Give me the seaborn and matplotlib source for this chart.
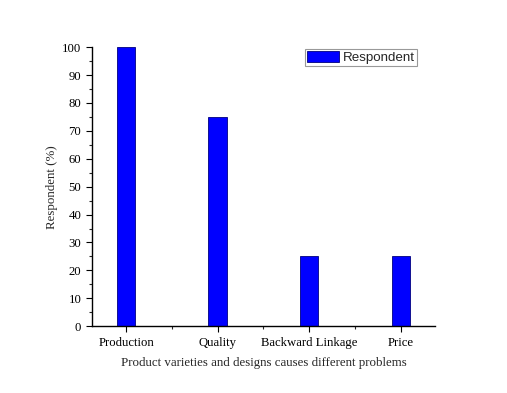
import matplotlib
matplotlib.use('Agg')
import matplotlib.pyplot as plt
import seaborn as sns
import pandas as pd
from matplotlib.ticker import MultipleLocator, FixedLocator

categories = ["Production", "Quality", "Backward Linkage", "Price"]
respondent = [100, 75, 25, 25]

df = pd.DataFrame({"problem": categories, "respondent": respondent})

sns.set_style("white")
plt.rcParams['font.family'] = ['Liberation Serif', 'DejaVu Serif']

fig = plt.figure(figsize=(5.07, 3.93), dpi=100)
ax = fig.add_axes([0.181, 0.170, 0.677, 0.710])

sns.barplot(data=df, x="problem", y="respondent", color="#0000ff", saturation=1,
            width=0.2, edgecolor="#00007f", linewidth=0.6, label="Respondent", ax=ax)

ax.set_xlim(-0.375, 3.375)
ax.set_ylim(0, 100)
ax.yaxis.set_major_locator(MultipleLocator(10))
ax.yaxis.set_minor_locator(MultipleLocator(5))
ax.xaxis.set_minor_locator(FixedLocator([0.5, 1.5, 2.5]))
ax.tick_params(axis='both', which='major', direction='out', length=4, width=0.8,
               labelsize=9.2, bottom=True, left=True, colors='black')
ax.tick_params(axis='both', which='minor', direction='out', length=2.5, width=0.8,
               bottom=True, left=True)
for s in ['top', 'right']:
    ax.spines[s].set_visible(False)
for s in ['left', 'bottom']:
    ax.spines[s].set_color('black')
    ax.spines[s].set_linewidth(1.0)

ax.set_xlabel("Product varieties and designs causes different problems", fontsize=9.3, labelpad=6)
ax.set_ylabel("Respondent (%)", fontsize=9.3, labelpad=3)

leg = ax.legend(loc='upper right', bbox_to_anchor=(0.947, 0.995), frameon=True, fancybox=False,
                prop={'family': 'Liberation Sans', 'size': 9.6}, handlelength=2.4,
                handleheight=1.0, handletextpad=0.3, borderpad=0.15, borderaxespad=0.0)
leg.get_frame().set_edgecolor('#808080')
leg.get_frame().set_linewidth(0.8)

fig.savefig("out.png", dpi=100)
